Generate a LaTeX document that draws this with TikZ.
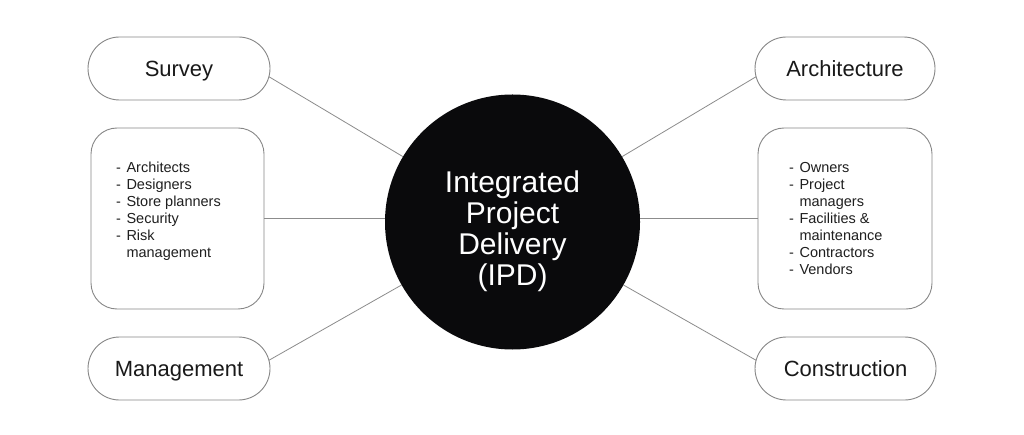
\documentclass[tikz,border=0pt]{standalone}
\usepackage{fontspec}
\setmainfont{Liberation Sans}
\usetikzlibrary{shapes.misc,calc}
\definecolor{edgegray}{RGB}{135,135,135}
\definecolor{linegray}{RGB}{140,140,140}
\definecolor{inkblack}{RGB}{10,10,12}
\begin{document}
\begin{tikzpicture}[x=1pt,y=-1pt,
  pill/.style={rounded rectangle, draw=edgegray, line width=0.9pt, minimum width=182pt, minimum height=63pt, inner sep=0pt, outer sep=0pt, font=\fontsize{22}{26}\selectfont, text=black!90, text height=15.75pt, text depth=0pt},
  listbox/.style={rectangle, rounded corners=26pt, draw=edgegray, line width=0.9pt, minimum width=173pt, minimum height=181pt, inner sep=0pt, outer sep=0pt},
  listtext/.style={anchor=base west, inner sep=0pt, font=\fontsize{14.5}{17}\selectfont, text=black!88},
  conn/.style={draw=linegray, line width=0.8pt}]
\useasboundingbox (0,0) rectangle (1024,435);
\fill[white] (0,0) rectangle (1024,435);

% centre
\node[circle, fill=inkblack, minimum size=255pt, inner sep=0pt, outer sep=0pt] (ipd) at (512.5,222) {};
\node[text=white, align=center, font=\fontsize{30}{31}\selectfont, inner sep=0pt] (ipdtext) at (512.5,231.5) {Integrated\\Project\\Delivery\\(IPD)};

% pills
\node[pill] (survey) at (179,68.5) {Survey};
\node[pill] (mgmt) at (179,368.5) {Management};
\node[pill, minimum width=180pt] (arch) at (845,68.5) {Architecture};
\node[pill, minimum width=181pt] (constr) at (845.5,368.5) {Construction};

% list boxes
\node[listbox] (listL) at (177.5,218.5) {};
\node[listbox, minimum width=174pt] (listR) at (845,218.5) {};

\node[listtext] (itemsL) at (116,173) {\begin{tabular}[t]{@{}l@{\hspace{5.5pt}}l@{}}-&Architects\\-&Designers\\-&Store planners\\-&Security\\-&Risk\\&management\end{tabular}};
\node[listtext] (itemsR) at (789,173) {\begin{tabular}[t]{@{}l@{\hspace{5.5pt}}l@{}}-&Owners\\-&Project\\&managers\\-&Facilities \&\\&maintenance\\-&Contractors\\-&Vendors\end{tabular}};

% connectors
\coordinate (sA) at ($(survey.east)+(-1.1,8.2)$);
\coordinate (mA) at ($(mgmt.east)+(-1.1,-8.2)$);
\coordinate (aA) at ($(arch.west)+(1.1,8.2)$);
\coordinate (cA) at ($(constr.west)+(1.1,-8.2)$);
\draw[conn] (sA) -- (ipd);
\draw[conn] (mA) -- (ipd);
\draw[conn] (aA) -- (ipd);
\draw[conn] (cA) -- (ipd);
\draw[conn] (listL.east) -- (listL.east -| ipd.west);
\draw[conn] (listR.west) -- (listR.west -| ipd.east);
\end{tikzpicture}
\end{document}
